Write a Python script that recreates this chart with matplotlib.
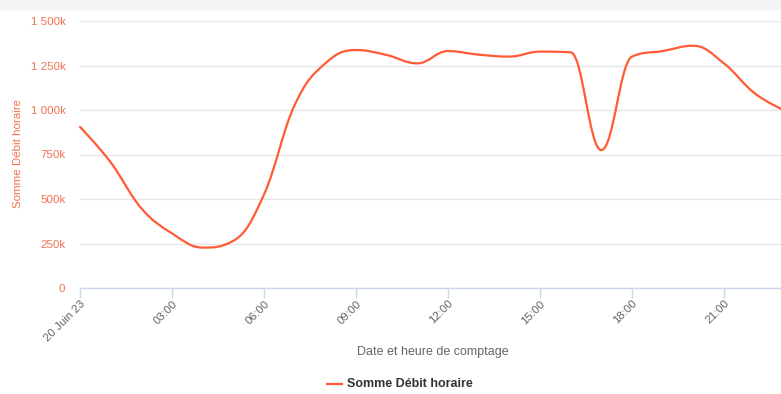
import numpy as np
import matplotlib
matplotlib.use("Agg")
import matplotlib.pyplot as plt
from matplotlib.patches import Rectangle, PathPatch
from matplotlib.path import Path

# hourly totals, 20 June 2023 (values in thousands)
hours = list(range(24))
debit = [905, 706, 448, 307, 227, 265, 525, 1028, 1262, 1337, 1309, 1262,
         1331, 1311, 1300, 1328, 1324, 775, 1300, 1331, 1361, 1262, 1094, 995]
tick_hours = [0, 3, 6, 9, 12, 15, 18, 21]
tick_labels = ["20 Juin 23", "03:00", "06:00", "09:00", "12:00", "15:00", "18:00", "21:00"]
y_ticks = [0, 250, 500, 750, 1000, 1250, 1500]
y_labels = ["0", "250k", "500k", "750k", "1 000k", "1 250k", "1 500k"]

LINE = "#ff5b35"
ORANGE_TXT = "#f2704e"
GREY_TXT = "#666666"

plt.rcParams["font.family"] = ["Liberation Sans", "DejaVu Sans"]


def spline_path(x, y, smoothing=1.5):
    # bezier spline through the points, same idea as the web chart's "spline" series
    n = len(x)
    denom = smoothing + 1
    lc = [(x[i], y[i]) for i in range(n)]
    rc = [(x[i], y[i]) for i in range(n)]
    for i in range(1, n - 1):
        px, py = x[i], y[i]
        lx = (smoothing * px + x[i - 1]) / denom
        ly = (smoothing * py + y[i - 1]) / denom
        rx = (smoothing * px + x[i + 1]) / denom
        ry = (smoothing * py + y[i + 1]) / denom
        corr = (ry - ly) * (rx - px) / (rx - lx) + py - ry
        ly += corr
        ry += corr
        if ly > y[i - 1] and ly > py:
            ly = max(y[i - 1], py)
            ry = 2 * py - ly
        elif ly < y[i - 1] and ly < py:
            ly = min(y[i - 1], py)
            ry = 2 * py - ly
        if ry > y[i + 1] and ry > py:
            ry = max(y[i + 1], py)
            ly = 2 * py - ry
        elif ry < y[i + 1] and ry < py:
            ry = min(y[i + 1], py)
            ly = 2 * py - ry
        lc[i] = (lx, ly)
        rc[i] = (rx, ry)
    verts = [(x[0], y[0])]
    codes = [Path.MOVETO]
    for i in range(1, n):
        verts += [rc[i - 1], lc[i], (x[i], y[i])]
        codes += [Path.CURVE4] * 3
    return Path(verts, codes)


W, H = 781, 394
fig = plt.figure(figsize=(W / 100, H / 100), dpi=100)
fig.patches.append(Rectangle((0, 1 - 9 / H), 1, 9 / H, transform=fig.transFigure,
                             color="#f3f3f3", zorder=0))

left, right, top, bottom = 80, 785.3, 21, 288
ax = fig.add_axes([left / W, 1 - bottom / H, (right - left) / W, (bottom - top) / H])

ax.add_patch(PathPatch(spline_path(hours, debit), facecolor="none", edgecolor=LINE,
                       lw=1.6, capstyle="round", joinstyle="round", clip_on=False))

ax.set_xlim(0, 23)
ax.set_ylim(0, 1500)
ax.set_yticks(y_ticks)
ax.set_yticklabels(y_labels)
ax.set_xticks(tick_hours)
ax.set_xticklabels(tick_labels, rotation=45, ha="right", rotation_mode="anchor")

ax.grid(axis="y", color="#e6e6e6", lw=1)
ax.set_axisbelow(True)
for s in ["top", "right", "left"]:
    ax.spines[s].set_visible(False)
ax.spines["bottom"].set_color("#ccd6eb")
ax.spines["bottom"].set_linewidth(1)

ax.tick_params(axis="y", length=0, pad=10.5, labelsize=8.25, labelcolor=ORANGE_TXT)
ax.tick_params(axis="x", length=7.5, width=1, color="#ccd6eb", pad=0, labelsize=8.25,
               labelcolor=GREY_TXT)

fig.text(18 / W, 1 - 154 / H, "Somme Débit horaire", rotation=90, color=ORANGE_TXT,
         fontsize=8.25, ha="center", va="center")
fig.text(433 / W, 1 - 352 / H, "Date et heure de comptage", color=GREY_TXT,
         fontsize=9, ha="center", va="center")

# legend
fig.lines.append(plt.Line2D([327 / W, 342 / W], [1 - 384 / H] * 2, transform=fig.transFigure,
                            color=LINE, lw=1.6))
fig.text(347 / W, 1 - 384 / H, "Somme Débit horaire", color="#333333", fontsize=9,
         fontweight="bold", ha="left", va="center")

fig.savefig("out.png", dpi=100)
